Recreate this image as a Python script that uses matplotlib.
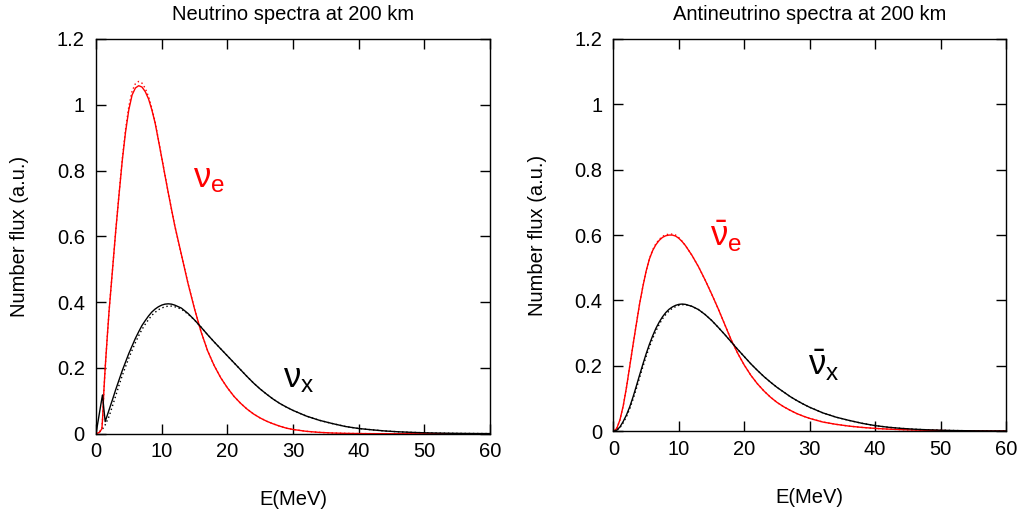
import matplotlib
matplotlib.use("Agg")
import matplotlib.pyplot as plt
from matplotlib.ticker import FormatStrFormatter

plt.rcParams['font.family'] = ['Liberation Sans', 'DejaVu Sans']
plt.rcParams['mathtext.fontset'] = 'custom'
plt.rcParams['mathtext.rm'] = 'Liberation Sans'
plt.rcParams['mathtext.it'] = 'Liberation Sans'

# ---- neutrino panel ----
e_nu = ([0, 0.5, 0.9, 1.0, 1.2, 1.4, 1.7]
        + [2, 2.5, 3, 3.5, 4, 4.5, 5, 5.5, 6, 6.5, 7, 7.5, 8, 8.5, 9, 9.5, 10, 10.5, 11]
        + [11.5]
        + [12, 13, 14, 15, 16, 17, 18, 19, 20, 21, 22, 23, 24, 25, 26, 27, 28, 29, 30]
        + [32, 34, 36, 38, 40, 42, 44, 46, 48, 50, 52, 54, 56, 58, 60])

nue_after = ([0, 0.004, 0.015, 0.045, 0.13, 0.2, 0.29]
             + [0.375, 0.495, 0.615, 0.725, 0.83, 0.917, 0.985, 1.03, 1.051, 1.058, 1.054,
                1.04, 1.018, 0.985, 0.945, 0.893, 0.84, 0.786, 0.733]
             + [0.682]
             + [0.632, 0.545, 0.458, 0.38, 0.31, 0.252, 0.207, 0.17, 0.14, 0.114, 0.093,
                0.075, 0.06, 0.048, 0.038, 0.03, 0.023, 0.017, 0.013]
             + [0.0075, 0.0042, 0.0023, 0.0012, 0.0006, 0.0003, 0.0001, 0, 0, 0, 0, 0, 0, 0, 0])
nue_before = ([0, 0.004, 0.015, 0.045, 0.13, 0.2, 0.29]
              + [0.375, 0.495, 0.615, 0.727, 0.835, 0.925, 0.995, 1.042, 1.064, 1.071, 1.066,
                 1.05, 1.025, 0.99, 0.948, 0.895, 0.841, 0.787, 0.733]
              + [0.682]
              + [0.632, 0.545, 0.458, 0.38, 0.31, 0.252, 0.207, 0.17, 0.14, 0.114, 0.093,
                 0.075, 0.06, 0.048, 0.038, 0.03, 0.023, 0.017, 0.013]
              + [0.0075, 0.0042, 0.0023, 0.0012, 0.0006, 0.0003, 0.0001, 0, 0, 0, 0, 0, 0, 0, 0])
nux_after = ([0, 0.06, 0.108, 0.118, 0.075, 0.037, 0.055]
             + [0.073, 0.103, 0.134, 0.163, 0.192, 0.218, 0.244, 0.267, 0.29, 0.31, 0.329,
                0.344, 0.358, 0.37, 0.379, 0.386, 0.391, 0.394, 0.395]
             + [0.394]
             + [0.391, 0.382, 0.366, 0.346, 0.324, 0.301, 0.279, 0.258, 0.237, 0.216, 0.195,
                0.174, 0.154, 0.136, 0.12, 0.105, 0.092, 0.081, 0.071]
             + [0.054, 0.041, 0.031, 0.022, 0.016, 0.012, 0.0085, 0.006, 0.0043, 0.003,
                0.0021, 0.0015, 0.001, 0.0007, 0.0005])
nux_before = ([0, 0.005, 0.013, 0.015, 0.02, 0.027, 0.04]
              + [0.053, 0.084, 0.115, 0.147, 0.177, 0.204, 0.23, 0.254, 0.277, 0.298, 0.317,
                 0.333, 0.347, 0.36, 0.369, 0.377, 0.382, 0.386, 0.388]
              + [0.388]
              + [0.386, 0.379, 0.364, 0.346, 0.324, 0.301, 0.279, 0.258, 0.237, 0.216, 0.195,
                 0.174, 0.154, 0.136, 0.12, 0.105, 0.092, 0.081, 0.071]
              + [0.054, 0.041, 0.031, 0.022, 0.016, 0.012, 0.0085, 0.006, 0.0043, 0.003,
                 0.0021, 0.0015, 0.001, 0.0007, 0.0005])

# ---- antineutrino panel ----
e_anu = ([0, 0.5, 1, 1.5, 2, 2.5, 3, 3.5, 4, 4.5, 5, 5.5, 6, 6.5, 7, 7.5, 8, 8.5, 9, 9.5,
          10, 10.5, 11]
         + [12, 13, 14, 15, 16, 17, 18, 19, 20, 21, 22, 23, 24, 25, 26, 27, 28, 29, 30]
         + [32, 34, 36, 38, 40, 42, 44, 46, 48, 50, 52, 54, 56, 58, 60])

anue_after = ([0, 0.008, 0.035, 0.078, 0.135, 0.2, 0.265, 0.328, 0.39, 0.443, 0.49, 0.527,
               0.553, 0.571, 0.584, 0.593, 0.598, 0.6, 0.6, 0.597, 0.59, 0.58, 0.568]
              + [0.538, 0.503, 0.463, 0.42, 0.375, 0.327, 0.279, 0.238, 0.202, 0.171, 0.145,
                 0.123, 0.104, 0.088, 0.075, 0.064, 0.054, 0.046, 0.039]
              + [0.028, 0.021, 0.0155, 0.0115, 0.0085, 0.0063, 0.0047, 0.0035, 0.0026, 0.0019,
                 0.0014, 0.001, 0.0007, 0.0005, 0.0004])
anue_before = ([0, 0.008, 0.035, 0.078, 0.135, 0.2, 0.265, 0.328, 0.39, 0.443, 0.49, 0.528,
                0.555, 0.574, 0.587, 0.596, 0.601, 0.603, 0.603, 0.6, 0.592, 0.581, 0.568]
               + [0.538, 0.503, 0.463, 0.42, 0.375, 0.327, 0.279, 0.238, 0.202, 0.171, 0.145,
                  0.123, 0.104, 0.088, 0.075, 0.064, 0.054, 0.046, 0.039]
               + [0.028, 0.021, 0.0155, 0.0115, 0.0085, 0.0063, 0.0047, 0.0035, 0.0026, 0.0019,
                  0.0014, 0.001, 0.0007, 0.0005, 0.0004])
anux_after = ([0, 0.003, 0.013, 0.03, 0.05, 0.075, 0.105, 0.138, 0.172, 0.205, 0.237, 0.266,
               0.292, 0.315, 0.334, 0.35, 0.363, 0.373, 0.38, 0.385, 0.388, 0.389, 0.388]
              + [0.382, 0.372, 0.357, 0.339, 0.318, 0.296, 0.273, 0.25, 0.228, 0.206, 0.186,
                 0.167, 0.15, 0.134, 0.12, 0.106, 0.094, 0.083, 0.073]
              + [0.056, 0.043, 0.033, 0.024, 0.017, 0.012, 0.0085, 0.006, 0.0042, 0.003,
                 0.002, 0.0014, 0.001, 0.0007, 0.0005])
anux_before = ([0, 0.002, 0.011, 0.026, 0.045, 0.069, 0.098, 0.13, 0.164, 0.197, 0.229, 0.258,
                0.284, 0.307, 0.327, 0.344, 0.357, 0.368, 0.376, 0.381, 0.385, 0.387, 0.387]
               + [0.382, 0.372, 0.357, 0.339, 0.318, 0.296, 0.273, 0.25, 0.228, 0.206, 0.186,
                  0.167, 0.15, 0.134, 0.12, 0.106, 0.094, 0.083, 0.073]
               + [0.056, 0.043, 0.033, 0.024, 0.017, 0.012, 0.0085, 0.006, 0.0042, 0.003,
                  0.002, 0.0014, 0.001, 0.0007, 0.0005])

titles = ['Neutrino spectra at 200 km', 'Antineutrino spectra at 200 km']
labels = [[r'$\nu_e$', r'$\nu_x$'], [r'$\bar{\nu}_e$', r'$\bar{\nu}_x$']]
label_pos = [[(14.8, 0.75), (28.5, 0.14)], [(14.8, 0.565), (29.8, 0.17)]]

fig = plt.figure(figsize=(10.31, 5.17), dpi=100)
ax1 = fig.add_axes([0.0931, 0.161, 0.3822, 0.7636])
ax2 = fig.add_axes([0.5950, 0.166, 0.3808, 0.7586])

panels = [(ax1, e_nu, nue_after, nue_before, nux_after, nux_before),
          (ax2, e_anu, anue_after, anue_before, anux_after, anux_before)]

for i, (ax, e, red, red0, blk, blk0) in enumerate(panels):
    ax.plot(e, red0, color='red', lw=1.0, ls=(0, (1, 2)))
    ax.plot(e, blk0, color='black', lw=1.0, ls=(0, (1, 2)))
    ax.plot(e, red, color='red', lw=1.0)
    ax.plot(e, blk, color='black', lw=1.0)

    ax.set_xlim(0, 60)
    ax.set_ylim(0, 1.2)
    ax.set_xticks(range(0, 61, 10))
    ax.set_yticks([0, 0.2, 0.4, 0.6, 0.8, 1.0, 1.2])
    ax.yaxis.set_major_formatter(FormatStrFormatter('%g'))
    ax.tick_params(direction='in', top=True, right=True, length=7, width=1,
                   labelsize=14.5)
    ax.tick_params(axis='y', pad=8)
    ax.tick_params(axis='x', pad=6)
    for s in ax.spines.values():
        s.set_linewidth(1.0)

    ax.set_title(titles[i], fontsize=14.5, pad=14)
    ax.set_xlabel('E(MeV)', fontsize=14.5, labelpad=21)
    ax.set_ylabel('Number flux (a.u.)', fontsize=14.5, labelpad=20)

    (x1, y1), (x2, y2) = label_pos[i]
    ax.text(x1, y1, labels[i][0], color='red', fontsize=25)
    ax.text(x2, y2, labels[i][1], color='black', fontsize=25)

fig.savefig('out.png', dpi=100)
